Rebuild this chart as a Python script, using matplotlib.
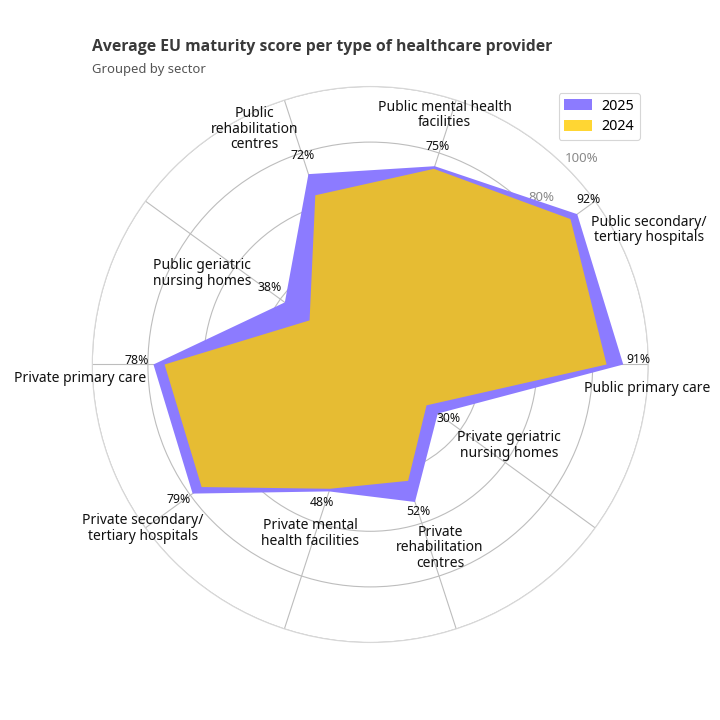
import numpy as np
import matplotlib
matplotlib.use("Agg")
import matplotlib.pyplot as plt
from matplotlib.patches import Patch

plt.rcParams['font.family'] = ['Noto Sans', 'DejaVu Sans']

# ---- data ----
categories = [
    "Public primary care",
    "Public secondary/\ntertiary hospitals",
    "Public mental health\nfacilities",
    "Public\nrehabilitation\ncentres",
    "Public geriatric\nnursing homes",
    "Private primary care",
    "Private secondary/\ntertiary hospitals",
    "Private mental\nhealth facilities",
    "Private\nrehabilitation\ncentres",
    "Private geriatric\nnursing homes",
]
values_2025 = [91, 92, 75, 72, 38, 78, 79, 48, 52, 30]
values_2024 = [85, 89, 74, 64, 27, 74, 75, 47, 44, 25]
series_names = ["2025", "2024"]
radial_ticks = [20, 40, 60, 80, 100]

# ---- styling / layout (pixel offsets from the 2025 vertex) ----
pct_offsets = [(15, 5), (11, 15), (3, 20), (-6, 19), (-15, 15),
               (-17, 4), (-14, -6), (-7, -11), (3, -10), (11, -5)]
cat_offsets = [(24, -24), (72, -16), (10, 51), (-54, 45), (-83, 29),
               (-73, -14), (-50, -35), (-19, -42), (25, -46), (71, -32)]

c2025 = "#8c7bff"
c2024_fill = "#e6bc33"
c2024_legend = "#ffd633"

fig = plt.figure(figsize=(7.2, 7.2), dpi=100)
W = H = 720
cx, cy, R = 370.3, 364.5, 278
ax = fig.add_axes([(cx - R) / W, (H - cy - R) / H, 2 * R / W, 2 * R / H], projection='polar')

n = len(categories)
theta = np.deg2rad(np.arange(n) * 360 / n)
th_closed = np.append(theta, theta[0])

ax.set_ylim(0, 100)
ax.set_yticks(radial_ticks)
ax.set_yticklabels([])
ax.set_xticks(theta)
ax.set_xticklabels([])
ax.grid(True, color="#bdbdbd", lw=0.8)
ax.spines['polar'].set_color("#d8d8d8")
ax.spines['polar'].set_linewidth(0.8)
ax.tick_params(length=0)
ax.set_axisbelow(True)

ax.fill(th_closed, np.append(values_2025, values_2025[0]), color=c2025, lw=0, zorder=2)
ax.fill(th_closed, np.append(values_2024, values_2024[0]), color=c2024_fill, lw=0, zorder=3)

# radial tick labels (beneath the fills)
for t in radial_ticks:
    ax.text(np.deg2rad(44.3), t + 6, f"{t}%", color="#8a8a8a", fontsize=9.5,
            ha='center', va='center', zorder=1)

for i in range(n):
    ax.annotate(f"{values_2025[i]}%", xy=(theta[i], values_2025[i]), xytext=pct_offsets[i],
                textcoords='offset pixels', ha='center', va='center', fontsize=8.8,
                color="#111111", zorder=5)
    ax.annotate(categories[i], xy=(theta[i], values_2025[i]), xytext=cat_offsets[i],
                textcoords='offset pixels', ha='center', va='center', fontsize=10,
                color="#111111", linespacing=1.05, zorder=5)

fig.text(92 / W, 1 - 51 / H, "Average EU maturity score per type of healthcare provider",
         fontsize=11.3, fontweight='bold', color="#3a3a3a", va='baseline', ha='left',
         family=['Open Sans', 'DejaVu Sans'])
fig.text(92 / W, 1 - 73 / H, "Grouped by sector", fontsize=9.4, color="#555555",
         va='baseline', ha='left')

handles = [Patch(facecolor=c2025, edgecolor='none'), Patch(facecolor=c2024_legend, edgecolor='none')]
leg = fig.legend(handles, series_names, loc='upper right',
                 bbox_to_anchor=(640 / W, 1 - 93 / H), bbox_transform=fig.transFigure,
                 fontsize=10.3, frameon=True, borderaxespad=0, handlelength=1.9,
                 handleheight=0.75, handletextpad=0.7, borderpad=0.4, labelspacing=0.4)
leg.get_frame().set_edgecolor("#cccccc")
leg.get_frame().set_linewidth(0.8)

fig.savefig("out.png", dpi=100)
